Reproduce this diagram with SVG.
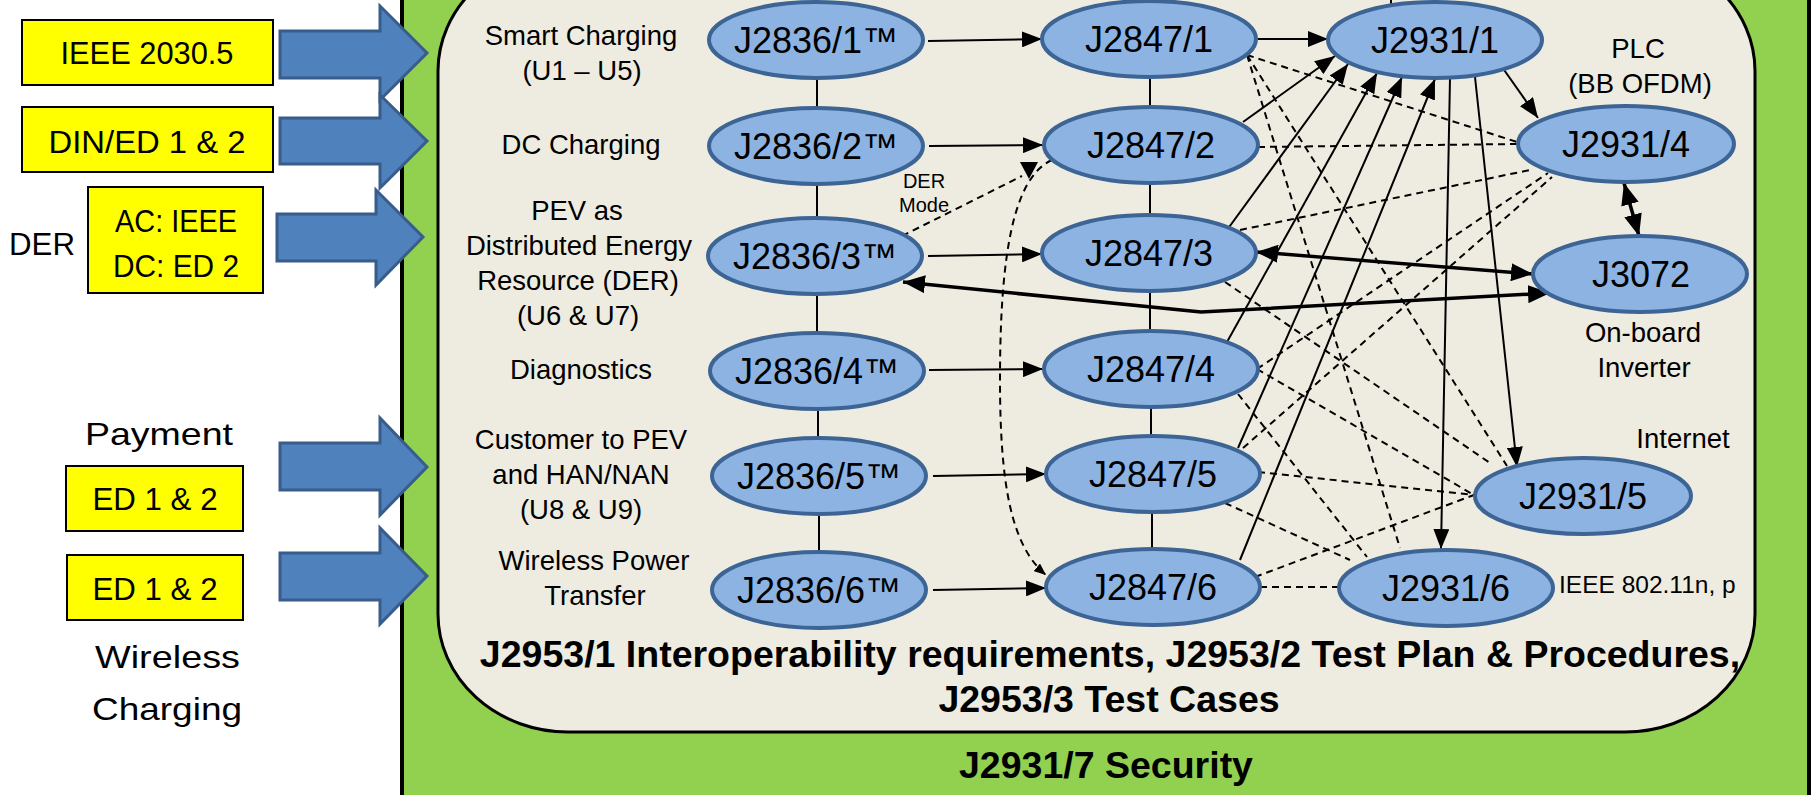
<svg xmlns="http://www.w3.org/2000/svg" width="1817" height="795" viewBox="0 0 1817 795">
<style>
text{font-family:"Liberation Sans",Arial,sans-serif;fill:#000}
.ybox{fill:#FFFF00;stroke:#000;stroke-width:2}
.ytxt{font-size:32px;text-anchor:middle}
.side{font-size:32px}
.barrow{fill:#4F81BD;stroke:#385D8A;stroke-width:3}
.node{fill:#8DB3E2;stroke:#3C6494;stroke-width:4}
.ntxt{font-size:36px;text-anchor:middle}
.lbl{font-size:27.5px;text-anchor:middle}
.small{font-size:20px;text-anchor:middle}
.bold{font-size:37.5px;font-weight:bold;text-anchor:middle}
.ln{fill:none;stroke:#000;stroke-width:2}
.thick{fill:none;stroke:#000;stroke-width:3.5}
.dash{fill:none;stroke:#000;stroke-width:2;stroke-dasharray:7 5}
</style>
<defs>
<marker id="ah" markerUnits="userSpaceOnUse" markerWidth="20" markerHeight="16" refX="20" refY="8" orient="auto"><path d="M0,0 L20,8 L0,16 z" fill="#000"/></marker>
<marker id="ah2" markerUnits="userSpaceOnUse" markerWidth="22" markerHeight="18" refX="22" refY="9" orient="auto-start-reverse"><path d="M0,0 L22,9 L0,18 z" fill="#000"/></marker>
<marker id="ahs" markerUnits="userSpaceOnUse" markerWidth="12" markerHeight="10" refX="12" refY="5" orient="auto"><path d="M0,0 L12,5 L0,10 z" fill="#000"/></marker>
</defs>

<!-- green security panel -->
<g id="security-panel">
<rect x="402" y="-10" width="1407" height="830" fill="#92D050" stroke="#000" stroke-width="4"/>
<text class="bold" x="1106" y="778">J2931/7 Security</text>
</g>

<!-- inner interop panel -->
<g id="interop-panel">
<rect x="438" y="-47" width="1317" height="779" rx="130" ry="118" fill="#EEECE1" stroke="#000" stroke-width="3"/>
<text class="bold" x="1110" y="667">J2953/1 Interoperability requirements, J2953/2 Test Plan &amp; Procedures,</text>
<text class="bold" x="1109" y="712">J2953/3 Test Cases</text>
</g>

<!-- left inputs -->
<g id="in-ieee2030">
<rect class="ybox" x="22" y="20" width="251" height="65"/>
<text class="ytxt" x="147" y="64" textLength="173" lengthAdjust="spacingAndGlyphs">IEEE 2030.5</text>
</g>
<g id="in-din">
<rect class="ybox" x="22" y="107" width="251" height="65"/>
<text class="ytxt" x="147" y="153" textLength="197" lengthAdjust="spacingAndGlyphs">DIN/ED 1 &amp; 2</text>
</g>
<g id="in-der">
<text class="side" x="9" y="255" textLength="66" lengthAdjust="spacingAndGlyphs">DER</text>
<rect class="ybox" x="88" y="187" width="175" height="106"/>
<text class="ytxt" x="176" y="232" textLength="122" lengthAdjust="spacingAndGlyphs">AC: IEEE</text>
<text class="ytxt" x="176" y="277" textLength="126" lengthAdjust="spacingAndGlyphs">DC: ED 2</text>
</g>
<g id="in-payment">
<text class="side" x="85" y="445" textLength="148" lengthAdjust="spacingAndGlyphs">Payment</text>
<rect class="ybox" x="66" y="466" width="177" height="65"/>
<text class="ytxt" x="155" y="510" textLength="125" lengthAdjust="spacingAndGlyphs">ED 1 &amp; 2</text>
</g>
<g id="in-wireless">
<rect class="ybox" x="67" y="555" width="176" height="65"/>
<text class="ytxt" x="155" y="600" textLength="125" lengthAdjust="spacingAndGlyphs">ED 1 &amp; 2</text>
<text class="side" x="95" y="668" textLength="145" lengthAdjust="spacingAndGlyphs">Wireless</text>
<text class="side" x="92" y="720" textLength="150" lengthAdjust="spacingAndGlyphs">Charging</text>
</g>

<!-- big blue arrows -->
<g id="blue-arrows">
<path class="barrow" d="M280,31 L380,31 L380,6 L427,53 L380,100 L380,78 L280,78 z"/>
<path class="barrow" d="M280,118 L380,118 L380,95 L427,141 L380,188 L380,164 L280,164 z"/>
<path class="barrow" d="M277,214 L376,214 L376,190 L423,237 L376,285 L376,261 L277,261 z"/>
<path class="barrow" d="M280,443 L380,443 L380,418 L427,467 L380,515 L380,490 L280,490 z"/>
<path class="barrow" d="M280,553 L380,553 L380,528 L427,576 L380,624 L380,600 L280,600 z"/>
</g>

<!-- use-case labels -->
<g id="usecase-labels">
<text class="lbl" x="581" y="45">Smart Charging</text>
<text class="lbl" x="582" y="80">(U1 – U5)</text>
<text class="lbl" x="581" y="154">DC Charging</text>
<text class="lbl" x="577" y="220">PEV as</text>
<text class="lbl" x="579" y="255">Distributed Energy</text>
<text class="lbl" x="578" y="290">Resource (DER)</text>
<text class="lbl" x="578" y="325">(U6 &amp; U7)</text>
<text class="lbl" x="581" y="379">Diagnostics</text>
<text class="lbl" x="581" y="449">Customer to PEV</text>
<text class="lbl" x="581" y="484">and HAN/NAN</text>
<text class="lbl" x="581" y="519">(U8 &amp; U9)</text>
<text class="lbl" x="594" y="570">Wireless Power</text>
<text class="lbl" x="595" y="605">Transfer</text>
<text class="small" x="924" y="188">DER</text>
<text class="small" x="924" y="212">Mode</text>
<text class="lbl" x="1638" y="58">PLC</text>
<text class="lbl" x="1640" y="93">(BB OFDM)</text>
<text class="lbl" x="1643" y="342">On-board</text>
<text class="lbl" x="1644" y="377">Inverter</text>
<text class="lbl" x="1683" y="448">Internet</text>
<text x="1559" y="593" style="font-size:24.5px">IEEE 802.11n, p</text>
</g>

<!-- connectors -->
<g id="connectors">
<!-- column verticals -->
<path class="ln" d="M817,78 V108 M817,184 V218 M817,294 V333 M818,409 V438 M819,514 V551"/>
<path class="ln" d="M1150,77 V107 M1150,183 V215 M1150,291 V331 M1151,407 V436 M1152,512 V549"/>
<!-- J2836 -> J2847 -->
<path class="ln" marker-end="url(#ah)" d="M928,41 L1042,39"/>
<path class="ln" marker-end="url(#ah)" d="M929,146 L1043,145"/>
<path class="ln" marker-end="url(#ah)" d="M928,256 L1042,254"/>
<path class="ln" marker-end="url(#ah)" d="M929,370 L1043,369"/>
<path class="ln" marker-end="url(#ah)" d="M933,476 L1046,474"/>
<path class="ln" marker-end="url(#ah)" d="M933,590 L1046,588"/>
<!-- J2847 -> J2931/1 -->
<path class="ln" marker-end="url(#ah)" d="M1258,39 L1328,39"/>
<path class="ln" marker-end="url(#ah)" d="M1243,122 L1335,56"/>
<path class="ln" marker-end="url(#ah)" d="M1227,230 L1348,64"/>
<path class="ln" marker-end="url(#ah)" d="M1227,342 L1377,73"/>
<path class="ln" marker-end="url(#ah)" d="M1238,448 L1402,77"/>
<path class="ln" marker-end="url(#ah)" d="M1240,560 L1435,79"/>
<!-- J2931/1 -> others -->
<path class="ln" marker-end="url(#ah)" d="M1502,67 L1538,118"/>
<path class="ln" marker-end="url(#ah)" d="M1450,78 L1441,549"/>
<path class="ln" marker-end="url(#ah)" d="M1475,77 L1517,467"/>
<path class="ln" d="M1391,0 V4"/>
<!-- thick double arrows -->
<path class="thick" marker-start="url(#ah2)" marker-end="url(#ah2)" d="M1256,252 L1533,274"/>
<path class="thick" marker-start="url(#ah2)" marker-end="url(#ah2)" d="M903,282 L1201,312 L1550,293"/>
<path class="thick" marker-start="url(#ah2)" marker-end="url(#ah2)" d="M1624,183 L1639,236"/>
<!-- dashed links -->
<path class="dash" d="M1247,55 L1517,142"/>
<path class="dash" d="M1247,55 L1507,466"/>
<path class="dash" d="M1247,55 L1400,548"/>
<path class="dash" d="M1258,147 L1517,144"/>
<path class="dash" d="M1240,230 L1530,170"/>
<path class="dash" d="M1225,282 L1490,463"/>
<path class="dash" d="M1257,369 L1548,173"/>
<path class="dash" d="M1257,369 L1474,495"/>
<path class="dash" d="M1238,394 L1367,557"/>
<path class="dash" d="M1243,448 L1552,177"/>
<path class="dash" d="M1258,472 L1474,495"/>
<path class="dash" d="M1225,503 L1350,560"/>
<path class="dash" d="M1255,577 L1474,495"/>
<path class="dash" d="M1260,587 L1339,587"/>
<!-- DER mode -->
<path class="dash" d="M902,236 L1022,176"/>
<polygon points="1020,162 1038,162 1029,179" fill="#000"/>
<path class="dash" marker-end="url(#ahs)" d="M1052,160 C1012,178 1000,260 1000,380 C1000,480 1010,545 1046,575"/>
</g>

<!-- nodes -->
<g id="J2836-1"><ellipse class="node" cx="816" cy="40" rx="107" ry="38"/><text class="ntxt" x="816" y="53">J2836/1™</text></g>
<g id="J2836-2"><ellipse class="node" cx="816" cy="146" rx="107" ry="38"/><text class="ntxt" x="816" y="159">J2836/2™</text></g>
<g id="J2836-3"><ellipse class="node" cx="815" cy="256" rx="107" ry="38"/><text class="ntxt" x="815" y="269">J2836/3™</text></g>
<g id="J2836-4"><ellipse class="node" cx="817" cy="371" rx="107" ry="38"/><text class="ntxt" x="817" y="384">J2836/4™</text></g>
<g id="J2836-5"><ellipse class="node" cx="819" cy="476" rx="107" ry="38"/><text class="ntxt" x="819" y="489">J2836/5™</text></g>
<g id="J2836-6"><ellipse class="node" cx="819" cy="590" rx="107" ry="38"/><text class="ntxt" x="819" y="603">J2836/6™</text></g>

<g id="J2847-1"><ellipse class="node" cx="1149" cy="39" rx="107" ry="38"/><text class="ntxt" x="1149" y="52">J2847/1</text></g>
<g id="J2847-2"><ellipse class="node" cx="1151" cy="145" rx="107" ry="38"/><text class="ntxt" x="1151" y="158">J2847/2</text></g>
<g id="J2847-3"><ellipse class="node" cx="1149" cy="253" rx="107" ry="38"/><text class="ntxt" x="1149" y="266">J2847/3</text></g>
<g id="J2847-4"><ellipse class="node" cx="1151" cy="369" rx="107" ry="38"/><text class="ntxt" x="1151" y="382">J2847/4</text></g>
<g id="J2847-5"><ellipse class="node" cx="1153" cy="474" rx="107" ry="38"/><text class="ntxt" x="1153" y="487">J2847/5</text></g>
<g id="J2847-6"><ellipse class="node" cx="1153" cy="587" rx="107" ry="38"/><text class="ntxt" x="1153" y="600">J2847/6</text></g>

<g id="J2931-1"><ellipse class="node" cx="1435" cy="40" rx="107" ry="38"/><text class="ntxt" x="1435" y="53">J2931/1</text></g>
<g id="J2931-4"><ellipse class="node" cx="1626" cy="144" rx="108" ry="38"/><text class="ntxt" x="1626" y="157">J2931/4</text></g>
<g id="J3072"><ellipse class="node" cx="1640" cy="274" rx="107" ry="38"/><text class="ntxt" x="1641" y="287">J3072</text></g>
<g id="J2931-5"><ellipse class="node" cx="1583" cy="496" rx="108" ry="38"/><text class="ntxt" x="1583" y="509">J2931/5</text></g>
<g id="J2931-6"><ellipse class="node" cx="1446" cy="588" rx="107" ry="38"/><text class="ntxt" x="1446" y="601">J2931/6</text></g>
</svg>
